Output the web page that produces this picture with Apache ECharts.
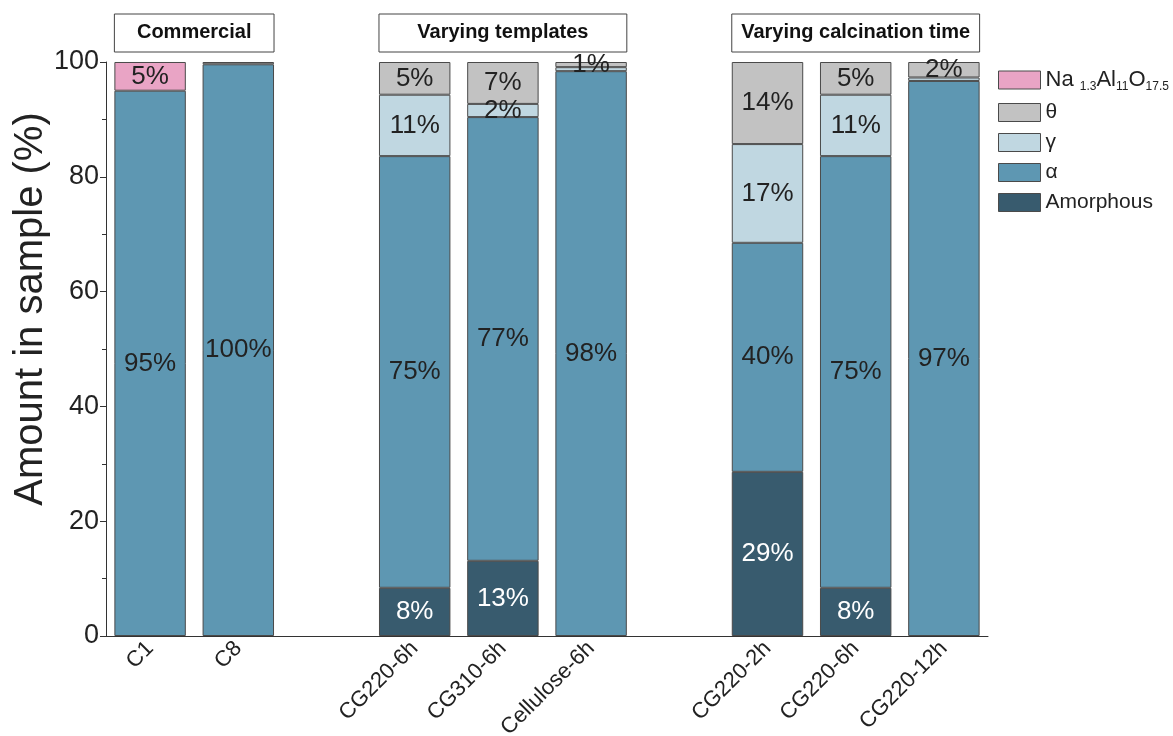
<!DOCTYPE html>
<html>
<head>
<meta charset="utf-8">
<title>Phase composition</title>
<script src="https://cdn.jsdelivr.net/npm/echarts@6/dist/echarts.min.js"></script>
<style>
  html, body { margin: 0; padding: 0; background: #fff; }
  #chart { width: 1173px; height: 736px; }
</style>
</head>
<body>
<div id="chart"></div>
<script>
// samples ('' and ' ' are the empty slots between groups)
const categories = ['C1', 'C8', '', 'CG220-6h', 'CG310-6h', 'Cellulose-6h', ' ', 'CG220-2h', 'CG220-6h', 'CG220-12h']

// amount in sample (%), bottom to top of each bar
const amorphous = ['-', '-', '-', 8.4, 13.1, '-', '-', 28.6, 8.4, '-']
const alpha = [95.0, 99.6, '-', 75.2, 77.3, 98.4, '-', 39.9, 75.2, 96.7]
const gamma = ['-', '-', '-', 10.7, 2.3, 0.7, '-', 17.2, 10.7, 0.6]
const theta = ['-', 0.4, '-', 5.7, 7.3, 0.9, '-', 14.3, 5.7, 2.7]
const naAl = [5.0, '-', '-', '-', '-', '-', '-', '-', '-', '-']

// printed labels inside the segments
const amorphousLabels = ['', '', '', '8%', '13%', '', '', '29%', '8%', '']
const alphaLabels = ['95%', '100%', '', '75%', '77%', '98%', '', '40%', '75%', '97%']
const gammaLabels = ['', '', '', '11%', '2%', '', '', '17%', '11%', '']
const thetaLabels = ['', '', '', '5%', '7%', '1%', '', '14%', '5%', '2%']
const naAlLabels = ['5%', '', '', '', '', '', '', '', '', '']

const groupNames = ['Commercial', 'Varying templates', 'Varying calcination time']
const groupSpans = [[0, 1], [3, 5], [7, 9]]

const yTicks = [0, 20, 40, 60, 80, 100]

const chart = echarts.init(document.getElementById('chart'))
const font = 'Liberation Sans, Arial, sans-serif'

function makeSeries(name, values, labels, color, labelColor) {
  return {
    name: name,
    type: 'bar',
    stack: 'total',
    barWidth: '81%',
    data: values,
    itemStyle: {
      color: color,
      borderColor: '#4a4a4a',
      borderWidth: 1
    },
    label: {
      show: true,
      position: 'inside',
      fontFamily: font,
      fontSize: 26,
      color: labelColor,
      formatter: p => labels[p.dataIndex] || ''
    },
    emphasis: { disabled: true }
  }
}

const NA_NAME = 'Na1.3Al11O17.5'

chart.setOption({
  animation: false,
  backgroundColor: '#fff',
  textStyle: { fontFamily: font },
  grid: { left: 106, right: 185, top: 62, bottom: 100, outerBoundsMode: 'none' },
  legend: {
    orient: 'vertical',
    left: 993,
    top: 64,
    icon: 'rect',
    itemWidth: 42,
    itemHeight: 18,
    itemGap: 9,
    data: [NA_NAME, 'θ', 'γ', 'α', 'Amorphous'],
    textStyle: {
      fontFamily: font,
      fontSize: 21,
      color: '#222',
      rich: {
        b: { fontSize: 22, fontFamily: font, color: '#222' },
        s: { fontSize: 12, fontFamily: font, color: '#222', padding: [14, 0, 0, 0] }
      }
    },
    formatter: name => name === NA_NAME ? '{b|Na }{s|1.3}{b|Al}{s|11}{b|O}{s|17.5}' : name,
    itemStyle: { borderColor: '#4a4a4a', borderWidth: 1 }
  },
  xAxis: [
    {
      type: 'category',
      data: categories,
      axisLine: { lineStyle: { color: '#333', width: 1 } },
      axisTick: { alignWithLabel: true, length: 6, lineStyle: { color: '#333' } },
      axisLabel: {
        rotate: 45,
        fontFamily: font,
        fontSize: 22,
        color: '#222',
        interval: 0,
        margin: 9
      }
    },
    {
      type: 'category',
      data: categories,
      position: 'bottom',
      axisLine: { show: false },
      axisTick: { length: 3, lineStyle: { color: '#333' } },
      axisLabel: { show: false }
    }
  ],
  yAxis: {
    type: 'value',
    min: yTicks[0],
    max: yTicks[yTicks.length - 1],
    interval: 20,
    name: 'Amount in sample (%)',
    nameLocation: 'middle',
    nameGap: 55,
    nameMoveOverlap: false,
    nameTextStyle: { fontFamily: font, fontSize: 40, color: '#222', padding: [0, 0, 0, 80] },
    axisLine: { show: true, lineStyle: { color: '#333', width: 1 } },
    axisTick: { show: true, length: 6, lineStyle: { color: '#333' } },
    minorTick: { show: true, splitNumber: 2, length: 4, lineStyle: { color: '#333' } },
    splitLine: { show: false },
    axisLabel: { fontFamily: font, fontSize: 27, color: '#222', margin: 7 }
  },
  series: [
    makeSeries('Amorphous', amorphous, amorphousLabels, '#385b6e', '#fff'),
    makeSeries('α', alpha, alphaLabels, '#5e97b2', '#222'),
    makeSeries('γ', gamma, gammaLabels, '#c0d7e1', '#222'),
    makeSeries('θ', theta, thetaLabels, '#c2c2c2', '#222'),
    makeSeries(NA_NAME, naAl, naAlLabels, '#e9a4c5', '#222')
  ]
})

// group header boxes spanning the bars of each group
function drawHeaders() {
  const step = chart.convertToPixel({ xAxisIndex: 0 }, 1) - chart.convertToPixel({ xAxisIndex: 0 }, 0)
  const half = step * 0.81 / 2
  const graphics = groupSpans.map((span, i) => {
    const x0 = chart.convertToPixel({ xAxisIndex: 0 }, span[0]) - half
    const x1 = chart.convertToPixel({ xAxisIndex: 0 }, span[1]) + half
    return {
      type: 'group',
      children: [
        {
          type: 'rect',
          shape: { x: x0, y: 14, width: x1 - x0, height: 38 },
          style: { fill: '#fff', stroke: '#444', lineWidth: 1 }
        },
        {
          type: 'text',
          x: (x0 + x1) / 2,
          y: 32,
          style: {
            text: groupNames[i],
            fontFamily: font,
            fontSize: 20,
            fontWeight: 'bold',
            fill: '#111',
            align: 'center',
            verticalAlign: 'middle'
          }
        }
      ]
    }
  })
  chart.setOption({ graphic: graphics })
}
drawHeaders()
</script>
</body>
</html>
